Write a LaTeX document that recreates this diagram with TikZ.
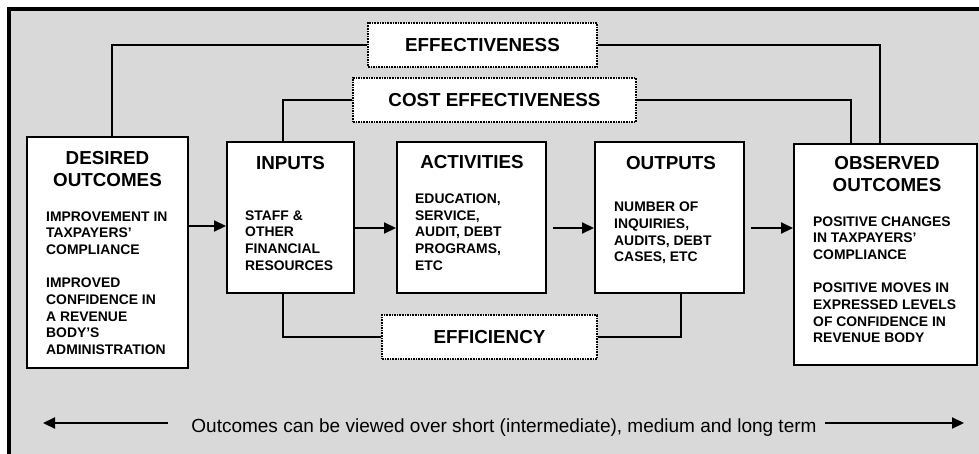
\documentclass[tikz,border=0pt]{standalone}
\usepackage{fontspec}
\setmainfont{Liberation Sans}
\usetikzlibrary{arrows.meta,calc}
\definecolor{bg}{RGB}{217,217,217}
\begin{document}
\begin{tikzpicture}[x=1pt,y=-1pt,
  box/.style={draw=black, line width=2pt, fill=white, inner sep=0pt},
  dotbox/.style={draw=black, fill=white, line width=1.6pt, dash pattern=on 1.6pt off 1pt,
    inner sep=0pt, minimum height=44pt, font=\bfseries\fontsize{18.8}{18.8}\selectfont},
  title/.style={font=\bfseries\fontsize{18.8}{21.7}\selectfont, inner sep=0pt, anchor=base},
  body/.style={font=\bfseries\fontsize{13.9}{16.7}\selectfont, inner sep=0pt, anchor=base west},
  conn/.style={line width=2.1pt},
  arr/.style={conn, -{Triangle[length=12pt,width=11pt]}}]
\useasboundingbox (0,0) rectangle (979,453);
\begin{scope}
  \clip (0,0) rectangle (979,453);
  \draw[line width=3.4pt, fill=bg] (9,9) rectangle (1000,480);
\end{scope}

% dotted labels
\node[dotbox, minimum width=229pt] (eff) at (482.5,45) {EFFECTIVENESS};
\node[dotbox, minimum width=283pt] (cost) at (494.5,100) {COST EFFECTIVENESS};
\node[dotbox, minimum width=215pt] (effc) at (489.5,337) {EFFICIENCY};

% boxes
\node[box, minimum width=161pt, minimum height=231pt] (des) at (107.5,252.5) {};
\node[box, minimum width=127pt, minimum height=151pt] (inp) at (290.5,217.5) {};
\node[box, minimum width=149pt, minimum height=151pt] (act) at (471.5,217.5) {};
\node[box, minimum width=149pt, minimum height=151pt] (outp) at (669.5,217.5) {};
\node[box, minimum width=183pt, minimum height=221pt] (obs) at (885.5,254) {};

% titles
\node[title] (desT1) at (107.5,164) {DESIRED};
\node[title] (desT2) at (107.5,186) {OUTCOMES};
\node[title] (inpT) at (290.5,169.4) {INPUTS};
\node[title] (actT) at (472,168.8) {ACTIVITIES};
\node[title] (outT) at (671,169) {OUTPUTS};
\node[title] (obsT1) at (887,169.7) {OBSERVED};
\node[title] (obsT2) at (887,191) {OUTCOMES};

% bodies
\foreach \t [count=\i from 0] in {IMPROVEMENT IN, TAXPAYERS’, COMPLIANCE, {}, IMPROVED, CONFIDENCE IN, A REVENUE, BODY’S, ADMINISTRATION}
  \node[body] (desB\i) at (46,{221+16.7*\i}) {\t};
\foreach \t [count=\i from 0] in {STAFF \&, OTHER, FINANCIAL, RESOURCES}
  \node[body] (inpB\i) at (245,{220+16.7*\i}) {\t};
\foreach \t [count=\i from 0] in {{EDUCATION,}, {SERVICE,}, {AUDIT, DEBT}, {PROGRAMS,}, ETC}
  \node[body] (actB\i) at (415,{203.3+16.7*\i}) {\t};
\foreach \t [count=\i from 0] in {NUMBER OF, {INQUIRIES,}, {AUDITS, DEBT}, {CASES, ETC}}
  \node[body] (outB\i) at (614,{211.7+16.7*\i}) {\t};
\foreach \t [count=\i from 0] in {POSITIVE CHANGES, IN TAXPAYERS’, COMPLIANCE, {}, POSITIVE MOVES IN, EXPRESSED LEVELS, OF CONFIDENCE IN, REVENUE BODY}
  \node[body] (obsB\i) at (813,{226+16.7*\i}) {\t};

% connectors
\draw[conn] (eff.west) -| ([xshift=4.5pt]des.north);
\draw[conn] (eff.east) -| ([xshift=-5.5pt]obs.north);
\draw[conn] (cost.west) -| ([xshift=-7.5pt]inp.north);
\draw[conn] (cost.east) -| ([xshift=-34.5pt]obs.north);
\draw[conn] (effc.west) -| ([xshift=-7.5pt]inp.south);
\draw[conn] (effc.east) -| ([xshift=11.5pt]outp.south);

% arrows
\coordinate (a1) at ($(inp.west)+(0,8.5)$);
\draw[arr] (a1 -| des.east) -- (a1);
\coordinate (a2) at ($(act.west)+(0,10.5)$);
\draw[arr] (a2 -| inp.east) -- (a2);
\coordinate (a3) at ($(outp.west)+(0,10.5)$);
\draw[arr] ($(a3 -| act.east)+(6,0)$) -- (a3);
\coordinate (a4) at ($(obs.west |- outp.west)+(0,10.5)$);
\draw[arr] ($(a4 -| outp.east)+(6,0)$) -- (a4);

% bottom
\node[font=\fontsize{19}{22}\selectfont, inner sep=0pt, anchor=base] (span) at (504,432.5) {Outcomes can be viewed over short (intermediate), medium and long term};
\coordinate (lt) at (43,423);
\coordinate (rt) at (964,423);
\draw[arr] ($(span.west |- lt)+(-23,0)$) -- (lt);
\draw[arr] ($(span.east |- rt)+(8,0)$) -- (rt);
\end{tikzpicture}
\end{document}
